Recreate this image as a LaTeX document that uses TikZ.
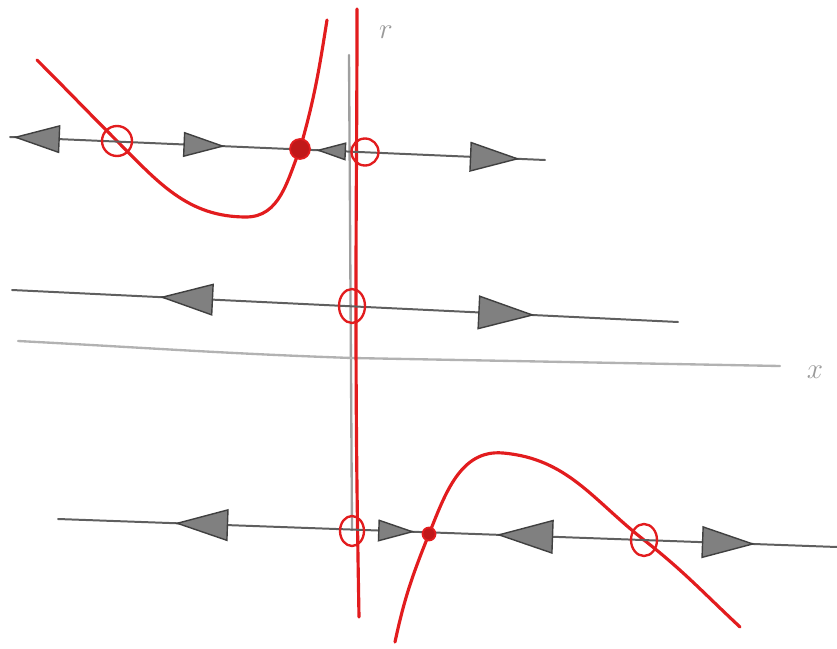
\documentclass[tikz,border=0pt]{standalone}
\usepackage{amsmath,amssymb}
\usepackage{xcolor}
\usepackage{tikz}
\usetikzlibrary{
  shapes.geometric, arrows.meta, decorations.markings, calc
}
\definecolor{penred}{RGB}{226,28,30}
\definecolor{pencil}{RGB}{95,95,95}
\tikzset{
  phaseline/.style={
    draw=pencil, line width=1.7pt, line cap=round
  },
  axisline/.style={
    draw=gray!60, line width=2pt, line cap=round
  },
  redcurve/.style={
    draw=penred, line width=2.7pt, line cap=round, line join=round
  },
  eqopen/.style={
    circle, draw=penred, line width=2pt, inner sep=0pt
  },
  eqfull/.style={
    circle, draw=penred, fill=penred!85!black, line width=1.5pt, inner sep=0pt
  },
  axislabel/.style={
    text=gray!80, font=\fontsize{30}{32}\selectfont, inner sep=0pt
  },
  flowright/.style 2 args={
    postaction={decorate, decoration={markings,
      mark=at position #1 with {\arrow{Triangle[length=#2, width'=0pt 0.6,
        fill=black!50, color=black!75, line width=1.2pt]}}}}
  },
  flowleft/.style 2 args={
    postaction={decorate, decoration={markings,
      mark=at position #1 with {\arrowreversed{Triangle[length=#2, width'=0pt 0.6,
        fill=black!50, color=black!75, line width=1.2pt]}}}}
  },
}

\begin{document}
\begin{tikzpicture}[x=0.03cm, y=-0.03cm]
  \useasboundingbox (0,0) rectangle (837,649);

  % === Axes ===
  \coordinate (rtop) at (349,55);
  \coordinate (rbot) at (352,530);
  \draw[axisline, draw=gray!75] (rtop) -- (rbot);
  \node[axislabel] (rlab) at (386,32) {$r$};

  \coordinate (xleft) at (18,341);
  \coordinate (xmid) at (352,358);
  \coordinate (xright) at (780,366);
  \draw[axisline] (xleft) to[out=-3, in=178] (xmid) -- (xright);
  \node[axislabel] (xlab) at (815,372) {$x$};

  % === Red curves of equilibria ===
  \draw[redcurve] (357,9) to[out=-90, in=90] (356,300) to[out=-90, in=91] (359,617);
  \draw[redcurve] (37,60) to[out=-45, in=135] (117,141)
    to[out=-45, in=180] (246,217) to[out=0, in=-112] (300,149)
    to[out=74, in=-99] (327,20);
  \draw[redcurve] (395,642) to[out=78, in=-112] (429,534)
    to[out=68, in=175] (503,453) to[out=-5, in=142] (644,540)
    to[out=-38, in=137] (740,627);

  % === Phase line, r > 0 ===
  \coordinate (topL) at (10,137);
  \coordinate (topR) at (545,160);
  \draw[phaseline, flowleft={0.006}{14mm}, flowright={0.402}{12.5mm},
        flowleft={0.572}{9mm}, flowright={0.953}{15mm}] (topL) -- (topR);
  \node[eqopen, minimum size=30*0.03cm] (topA) at (117,141) {};
  \node[eqfull, minimum size=20*0.03cm] (topB) at (300,149) {};
  \node[eqopen, minimum size=27*0.03cm] (topC) at (365,152) {};

  % === Phase line, r = 0 ===
  \coordinate (midL) at (12,290);
  \coordinate (midR) at (678,322);
  \draw[phaseline, flowleft={0.222}{16mm}, flowright={0.785}{17mm}] (midL) -- (midR);
  \node[eqopen, ellipse, minimum width=26*0.03cm, minimum height=34*0.03cm] (midA) at (352,306) {};

  % === Phase line, r < 0 ===
  \coordinate (botL) at (58,519);
  \coordinate (botR) at (837,547);
  \draw[phaseline, flowleft={0.150}{16mm}, flowright={0.458}{11mm},
        flowleft={0.563}{17mm}, flowright={0.895}{16mm}] (botL) -- (botR);
  \node[eqopen, ellipse, minimum width=24*0.03cm, minimum height=30*0.03cm] (botA) at (352,531) {};
  \node[eqfull, minimum size=13*0.03cm] (botB) at (429,534) {};
  \node[eqopen, ellipse, minimum width=26*0.03cm, minimum height=32*0.03cm] (botC) at (644,540) {};

\end{tikzpicture}
\end{document}
